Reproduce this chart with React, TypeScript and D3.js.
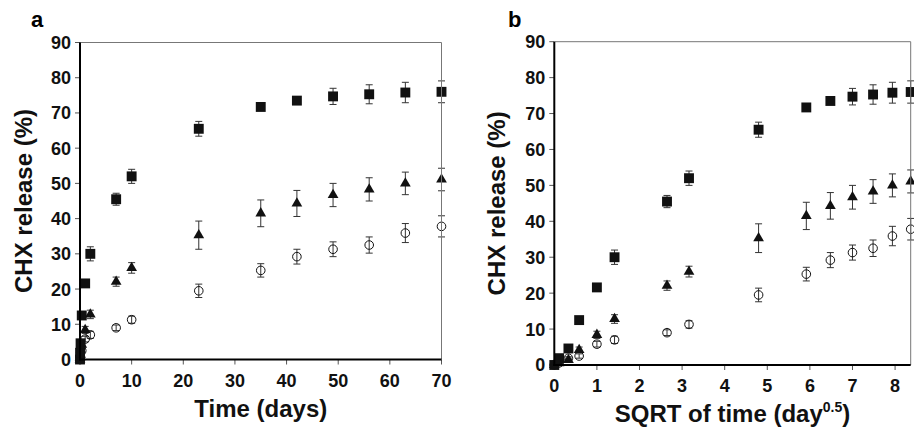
import * as d3 from 'd3';

// time points (days)
const timeDays = [0, 0.0125, 0.11, 0.34, 1, 2, 7, 10, 23, 35, 42, 49, 56, 63, 70];

// CHX release (%) for the three formulations
const squareVals = [0, 1.9, 4.6, 12.5, 21.6, 30, 45.5, 52, 65.5, 71.7, 73.5, 74.7, 75.3, 75.8, 76];
const squareErr = [0.2, 0.3, 0.4, 0.5, 0.6, 2.0, 1.7, 2.0, 2.1, 0.6, 0.8, 2.3, 2.7, 2.9, 3.1];
const triVals = [0, 0.5, 1.4, 4.2, 8.4, 12.8, 22.1, 26, 35.3, 41.5, 44.3, 46.7, 48.3, 50, 51.1];
const triErr = [0.2, 0.3, 0.5, 0.8, 1.0, 1.2, 1.3, 1.5, 4.0, 3.8, 3.7, 3.3, 3.3, 3.2, 3.2];
const circVals = [0, 0.6, 1.9, 2.5, 5.8, 7.0, 9.0, 11.3, 19.5, 25.3, 29.2, 31.3, 32.5, 35.9, 37.8];
const circErr = [0.2, 0.3, 0.4, 0.6, 0.8, 1.0, 0.8, 1.0, 1.9, 1.9, 2.1, 2.1, 2.3, 2.7, 3.0];

const yTicks = [0, 10, 20, 30, 40, 50, 60, 70, 80, 90];
const xTicksA = [0, 10, 20, 30, 40, 50, 60, 70];
const xTicksB = [0, 1, 2, 3, 4, 5, 6, 7, 8];

const FONT = "'Liberation Sans', Arial, Helvetica, sans-serif";

type Box = { left: number; right: number; top: number; bottom: number };

function Panel({ box, xs, xMax, xTicks, letter, letterX, yLabelX, xLabel, xLabelY }: {
  box: Box; xs: number[]; xMax: number; xTicks: number[]; letter: string;
  letterX: number; yLabelX: number; xLabel: any; xLabelY: number;
}) {
  const x = d3.scaleLinear().domain([0, xMax]).range([box.left, box.right]);
  const y = d3.scaleLinear().domain([0, 90]).range([box.bottom, box.top]);

  const series = [
    { vals: circVals, err: circErr, kind: 'circle' },
    { vals: triVals, err: triErr, kind: 'tri' },
    { vals: squareVals, err: squareErr, kind: 'square' },
  ];
  const triPath = d3.symbol(d3.symbolTriangle, 50)() as string;
  const sqPath = d3.symbol(d3.symbolSquare, 98)() as string;
  const midX = (box.left + box.right) / 2;
  const midY = (box.top + box.bottom) / 2;

  return (
    <g>
      <text x={letterX} y={27} fontFamily={FONT} fontWeight="bold" fontSize={22}>{letter}</text>
      {/* y ticks */}
      {yTicks.map((t) => (
        <g key={'y' + t}>
          <line x1={box.left - 5} x2={box.left} y1={y(t)} y2={y(t)} stroke="#555" strokeWidth={1} />
          <text x={box.left - 9} y={y(t)} dy="0.36em" textAnchor="end" fontFamily={FONT}
            fontWeight="bold" fontSize={18} fill="#111">{t}</text>
        </g>
      ))}
      {xTicks.map((t) => (
        <g key={'x' + t}>
          <line x1={x(t)} x2={x(t)} y1={box.bottom} y2={box.bottom + 5} stroke="#555" strokeWidth={1} />
          <text x={x(t)} y={box.bottom + 27} textAnchor="middle" fontFamily={FONT}
            fontWeight="bold" fontSize={18} fill="#111">{t}</text>
        </g>
      ))}
      {/* error bars */}
      {series.map((s) =>
        s.vals.map((v, i) => {
          const cx = x(xs[i]);
          const y1 = y(v + s.err[i]);
          const y2 = y(Math.max(0, v - s.err[i]));
          return (
            <g key={s.kind + 'e' + i} stroke="#333" strokeWidth={1}>
              <line x1={cx} x2={cx} y1={y1} y2={y2} />
              <line x1={cx - 3.5} x2={cx + 3.5} y1={y1} y2={y1} />
              <line x1={cx - 3.5} x2={cx + 3.5} y1={y2} y2={y2} />
            </g>
          );
        })
      )}
      {/* markers */}
      {series.map((s) =>
        s.vals.map((v, i) => {
          const cx = x(xs[i]);
          const cy = y(v);
          if (s.kind === 'circle')
            return <circle key={s.kind + i} cx={cx} cy={cy} r={4.3} fill="none" stroke="#111" strokeWidth={1} />;
          if (s.kind === 'tri')
            return <path key={s.kind + i} d={triPath} transform={`translate(${cx},${cy})`} fill="#111" />;
          return <path key={s.kind + i} d={sqPath} transform={`translate(${cx},${cy})`} fill="#111" />;
        })
      )}
      {/* frame */}
      <line x1={box.left} x2={box.right} y1={box.top} y2={box.top} stroke="#777" strokeWidth={1} />
      <line x1={box.right} x2={box.right} y1={box.top} y2={box.bottom} stroke="#777" strokeWidth={1} />
      <line x1={box.left} x2={box.left} y1={box.top} y2={box.bottom + 1} stroke="#000" strokeWidth={2} />
      <line x1={box.left - 1} x2={box.right} y1={box.bottom} y2={box.bottom} stroke="#000" strokeWidth={2} />
      <text transform={`translate(${yLabelX},${midY}) rotate(-90)`} textAnchor="middle"
        fontFamily={FONT} fontWeight="bold" fontSize={24} fill="#111">CHX release (%)</text>
      <text x={midX} y={xLabelY} textAnchor="middle" fontFamily={FONT} fontWeight="bold"
        fontSize={24} fill="#111">{xLabel}</text>
    </g>
  );
}

export default function App() {
  const sqrtTime = timeDays.map((t) => Math.sqrt(t));
  return (
    <svg width={914} height={431} style={{ position: 'absolute', left: 0, top: 0, background: '#fff' }}>
      <Panel
        box={{ left: 80, right: 441.5, top: 42.5, bottom: 359.5 }}
        xs={timeDays} xMax={70} xTicks={xTicksA} letter="a" letterX={31}
        yLabelX={32} xLabel="Time (days)" xLabelY={417}
      />
      <Panel
        box={{ left: 554.3, right: 910.7, top: 41.7, bottom: 365 }}
        xs={sqrtTime} xMax={Math.sqrt(70)} xTicks={xTicksB} letter="b" letterX={508}
        yLabelX={505}
        xLabel={<>SQRT of time (day<tspan fontSize={14} dy={-10}>0.5</tspan><tspan dy={10}>)</tspan></>}
        xLabelY={422}
      />
    </svg>
  );
}
